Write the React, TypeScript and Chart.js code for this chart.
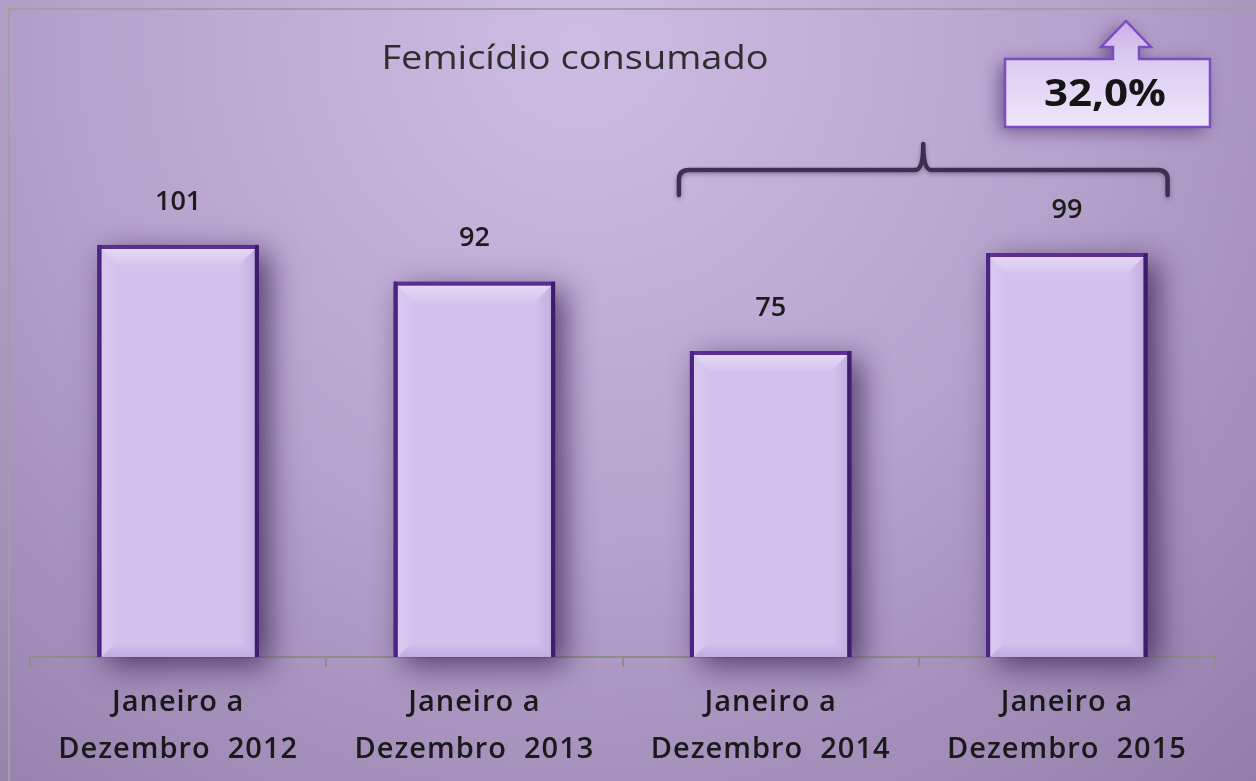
import React, { useEffect, useRef } from 'react';
import { Chart, registerables } from 'chart.js';

Chart.register(...registerables);

const categories: string[][] = [
  ['Janeiro a', 'Dezembro  2012'],
  ['Janeiro a', 'Dezembro  2013'],
  ['Janeiro a', 'Dezembro  2014'],
  ['Janeiro a', 'Dezembro  2015'],
];
const values: number[] = [101, 92, 75, 99];
const titleText = 'Femicídio consumado';
const changeLabel = '32,0%';

const W = 1256;
const H = 781;

function drawStretched(ctx: CanvasRenderingContext2D, text: string, cx: number, cy: number, targetW: number) {
  const w = ctx.measureText(text).width;
  const sx = targetW / w;
  ctx.save();
  ctx.translate(cx, cy);
  ctx.scale(sx, 1);
  ctx.textAlign = 'center';
  ctx.textBaseline = 'middle';
  ctx.fillText(text, 0, 0);
  ctx.restore();
}

function poly(ctx: CanvasRenderingContext2D, pts: number[][], fill: any) {
  ctx.beginPath();
  ctx.moveTo(pts[0][0], pts[0][1]);
  for (let i = 1; i < pts.length; i++) ctx.lineTo(pts[i][0], pts[i][1]);
  ctx.closePath();
  ctx.fillStyle = fill;
  ctx.fill();
}

const backgroundPlugin = {
  id: 'bg',
  beforeDraw(chart: any) {
    const ctx: any = chart.ctx;
    ctx.save();
    const g = ctx.createRadialGradient(580, 40, 0, 580, 40, 1100);
    g.addColorStop(0, '#cdbce3');
    g.addColorStop(0.45, '#b6a3cd');
    g.addColorStop(1, '#8c77a3');
    ctx.fillStyle = g;
    ctx.fillRect(0, 0, W, H);
    ctx.strokeStyle = '#9fa294';
    ctx.lineWidth = 2;
    ctx.beginPath();
    ctx.moveTo(9, H);
    ctx.lineTo(9, 9);
    ctx.lineTo(W, 9);
    ctx.stroke();
    ctx.restore();
    ctx.letterSpacing = '1px';
  },
  beforeDatasetsDraw(chart: any) {
    const ctx: any = chart.ctx;
    ctx.letterSpacing = '0px';
    const meta = chart.getDatasetMeta(0);
    meta.data.forEach((el: any) => {
      const { x, y, base, width } = el.getProps(['x', 'y', 'base', 'width'], true);
      ctx.save();
      ctx.shadowColor = 'rgba(45,20,70,0.7)';
      ctx.shadowBlur = 28;
      ctx.shadowOffsetX = 10;
      ctx.shadowOffsetY = 8;
      ctx.fillStyle = '#5b2d92';
      ctx.fillRect(x - width / 2, y, width, base - y);
      ctx.restore();
    });
  },
};

const decorPlugin = {
  id: 'decor',
  afterDatasetsDraw(chart: any) {
    const ctx: CanvasRenderingContext2D = chart.ctx;
    const meta = chart.getDatasetMeta(0);
    meta.data.forEach((el: any, i: number) => {
      const { x, y, base, width } = el.getProps(['x', 'y', 'base', 'width'], true);
      const bw = 4;
      const l = x - width / 2 + bw;
      const r = x + width / 2 - bw;
      const t = y + bw;
      const b = base;
      const s = 16;
      ctx.save();
      // top bevel
      let g = ctx.createLinearGradient(0, t, 0, t + s);
      g.addColorStop(0, 'rgba(255,255,255,0.38)');
      g.addColorStop(1, 'rgba(255,255,255,0.05)');
      poly(ctx, [[l, t], [r, t], [r - s, t + s], [l + s, t + s]], g);
      // bottom bevel
      g = ctx.createLinearGradient(0, b - s, 0, b);
      g.addColorStop(0, 'rgba(110,70,160,0.0)');
      g.addColorStop(1, 'rgba(110,70,160,0.18)');
      poly(ctx, [[l, b], [r, b], [r - s, b - s], [l + s, b - s]], g);
      // left bevel
      g = ctx.createLinearGradient(l, 0, l + s, 0);
      g.addColorStop(0, 'rgba(255,255,255,0.12)');
      g.addColorStop(1, 'rgba(255,255,255,0.0)');
      poly(ctx, [[l, t], [l + s, t + s], [l + s, b - s], [l, b]], g);
      // right bevel
      g = ctx.createLinearGradient(r - s, 0, r, 0);
      g.addColorStop(0, 'rgba(110,70,160,0.0)');
      g.addColorStop(1, 'rgba(110,70,160,0.16)');
      poly(ctx, [[r, t], [r - s, t + s], [r - s, b - s], [r, b]], g);
      // darker side borders
      ctx.fillStyle = '#3f1d6c';
      ctx.fillRect(r, y, bw, base - y);
      ctx.fillStyle = '#4c2583';
      ctx.fillRect(x - width / 2, y, bw, base - y);
      ctx.restore();

      // value label
      ctx.save();
      ctx.fillStyle = '#1c1c1c';
      ctx.font = '600 27px "Open Sans"';
      ctx.textAlign = 'center';
      ctx.textBaseline = 'middle';
      ctx.fillText(String(values[i]), x, y - 43);
      ctx.restore();
    });

    const area = chart.chartArea;
    // title
    ctx.save();
    ctx.fillStyle = '#2e2e2e';
    ctx.font = '400 32px "Open Sans"';
    drawStretched(ctx, titleText, 575, 60, 387);
    ctx.restore();

    // bracket over last two bars
    const b3 = meta.data[2];
    const b4 = meta.data[3];
    const L = b3.x - b3.width / 2 - 11;
    const R = b4.x + b4.width / 2 + 20;
    const C = (L + R) / 2;
    const yb = b4.y - 83;
    ctx.save();
    ctx.strokeStyle = '#3b3050';
    ctx.lineWidth = 4.5;
    ctx.lineCap = 'round';
    ctx.lineJoin = 'round';
    ctx.shadowColor = 'rgba(40,20,60,0.35)';
    ctx.shadowBlur = 4;
    ctx.shadowOffsetY = 2;
    ctx.beginPath();
    ctx.moveTo(L, yb + 25);
    ctx.lineTo(L, yb + 10);
    ctx.quadraticCurveTo(L, yb, L + 10, yb);
    ctx.lineTo(C - 8, yb);
    ctx.quadraticCurveTo(C, yb, C, yb - 26);
    ctx.quadraticCurveTo(C, yb, C + 8, yb);
    ctx.lineTo(R - 10, yb);
    ctx.quadraticCurveTo(R, yb, R, yb + 10);
    ctx.lineTo(R, yb + 25);
    ctx.stroke();
    ctx.restore();

    // arrow box
    const bx = area.right - 210;
    const by = 59;
    const bwid = 205;
    const bh = 68;
    const ax = bx + 121;
    ctx.save();
    ctx.shadowColor = 'rgba(50,20,80,0.55)';
    ctx.shadowBlur = 18;
    ctx.shadowOffsetX = -5;
    ctx.shadowOffsetY = 4;
    ctx.beginPath();
    ctx.moveTo(bx, by);
    ctx.lineTo(ax - 13, by);
    ctx.lineTo(ax - 13, by - 12);
    ctx.lineTo(ax - 25, by - 12);
    ctx.lineTo(ax, by - 38);
    ctx.lineTo(ax + 25, by - 12);
    ctx.lineTo(ax + 13, by - 12);
    ctx.lineTo(ax + 13, by);
    ctx.lineTo(bx + bwid, by);
    ctx.lineTo(bx + bwid, by + bh);
    ctx.lineTo(bx, by + bh);
    ctx.closePath();
    const g = ctx.createLinearGradient(0, by - 38, 0, by + bh);
    g.addColorStop(0, '#c9ace9');
    g.addColorStop(0.3, '#d8c8f1');
    g.addColorStop(1, '#efe7fa');
    ctx.fillStyle = g;
    ctx.fill();
    ctx.shadowColor = 'transparent';
    ctx.strokeStyle = '#7b4cc2';
    ctx.lineWidth = 2.5;
    ctx.stroke();
    ctx.restore();

    ctx.save();
    ctx.fillStyle = '#151515';
    ctx.font = '700 38px "Open Sans"';
    drawStretched(ctx, changeLabel, bx + 100, by + 36, 122);
    ctx.restore();
  },
};

export default function App() {
  const ref = useRef<HTMLCanvasElement | null>(null);
  useEffect(() => {
    if (!ref.current) return;
    const chart = new Chart(ref.current, {
      type: 'bar',
      data: {
        labels: categories,
        datasets: [
          {
            data: values,
            backgroundColor: '#d4c2ee',
            borderColor: '#5c2d93',
            borderWidth: 4,
            borderSkipped: 'bottom',
            barPercentage: 0.545,
            categoryPercentage: 1,
          },
        ],
      },
      options: {
        responsive: false,
        animation: false,
        devicePixelRatio: 1,
        layout: { padding: { left: 30, right: 41, top: 45, bottom: 0 } },
        plugins: {
          legend: { display: false },
          title: { display: false },
          tooltip: { enabled: false },
        },
        scales: {
          x: {
            offset: true,
            border: { display: true, color: '#8d8d8d', width: 2 },
            grid: {
              display: true,
              offset: true,
              drawOnChartArea: false,
              drawTicks: true,
              tickLength: 10,
              color: '#8d8d8d',
              lineWidth: 2,
            },
            ticks: {
              color: '#1a1a1a',
              font: { family: '"Open Sans"', size: 29, weight: '600', lineHeight: 1.6 },
              padding: 13,
              maxRotation: 0,
              autoSkip: false,
            },
            afterFit(scale: any) {
              scale.height = 124;
            },
          },
          y: {
            display: false,
            min: 0,
            max: 150,
          },
        },
      },
      plugins: [backgroundPlugin, decorPlugin],
    });
    return () => chart.destroy();
  }, []);
  return (
    <div style={{ position: 'fixed', left: 0, top: 0, width: W, height: H }}>
      <canvas ref={ref} width={W} height={H} style={{ display: 'block', width: W, height: H }} />
    </div>
  );
}
